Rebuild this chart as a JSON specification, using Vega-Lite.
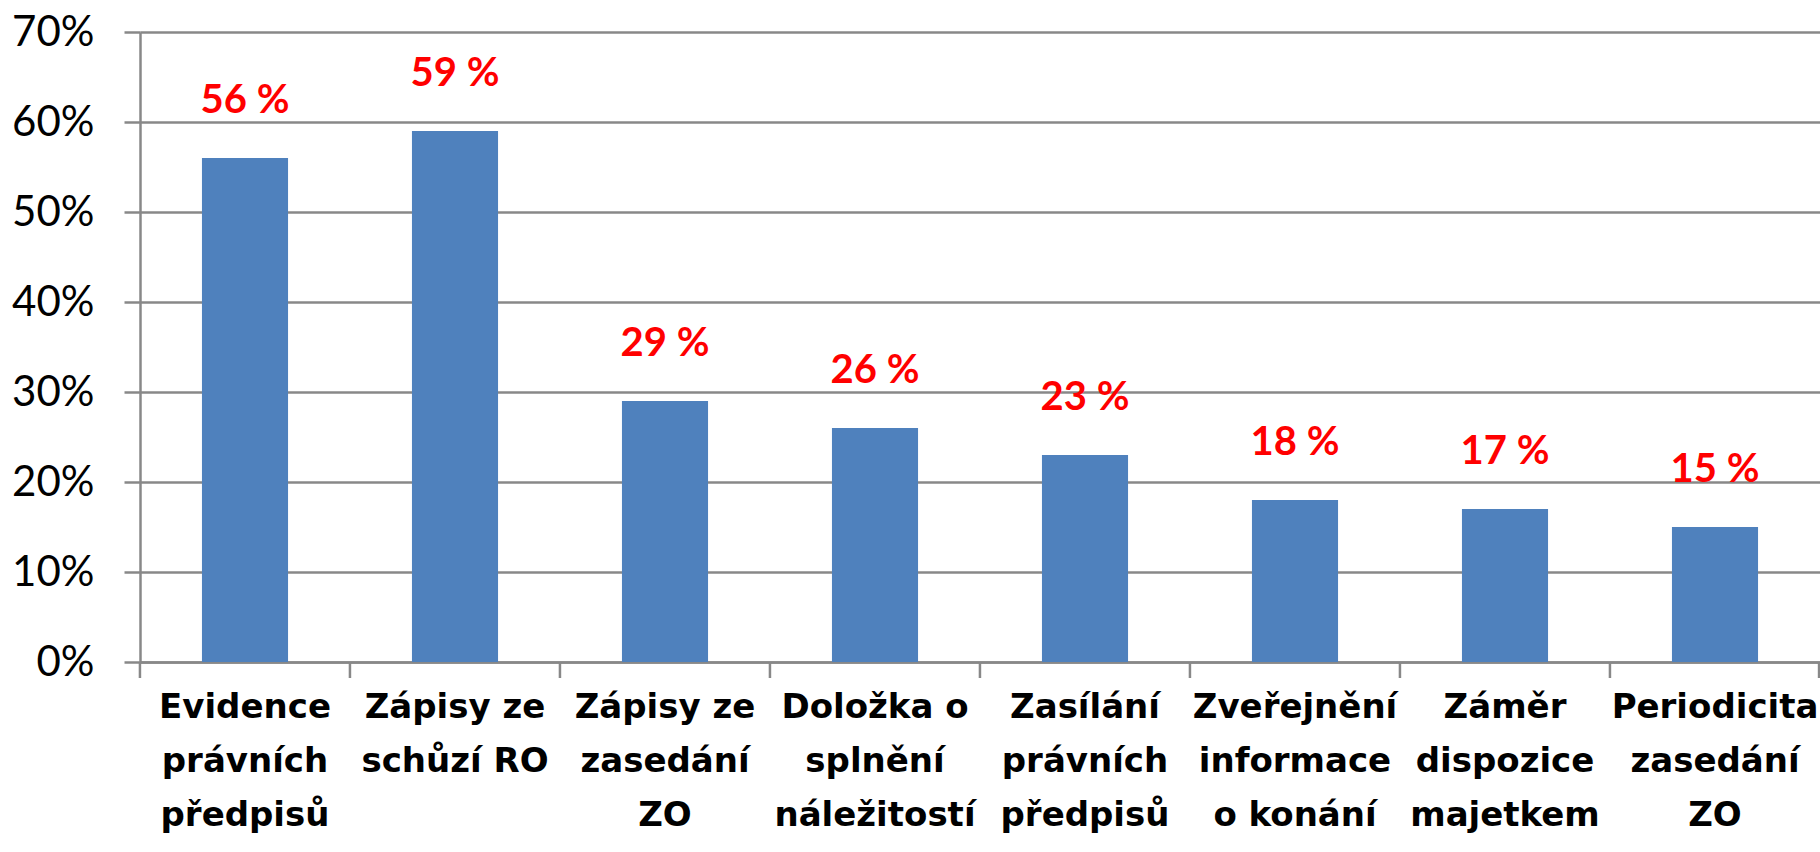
{
  "$schema": "https://vega.github.io/schema/vega-lite/v6.json",
  "autosize": "none",
  "width": 1680,
  "height": 630,
  "padding": {"left": 140, "top": 32, "right": 0, "bottom": 190},
  "background": "white",
  "config": {"view": {"stroke": null}, "font": "Lato"},
  "data": {
    "values": [
      {"cat": "Evidence\nprávních\npředpisů", "v": 56},
      {"cat": "Zápisy ze\nschůzí RO", "v": 59},
      {"cat": "Zápisy ze\nzasedání\nZO", "v": 29},
      {"cat": "Doložka o\nsplnění\nnáležitostí", "v": 26},
      {"cat": "Zasílání\nprávních\npředpisů", "v": 23},
      {"cat": "Zveřejnění\ninformace\no konání", "v": 18},
      {"cat": "Záměr\ndispozice\nmajetkem", "v": 17},
      {"cat": "Periodicita\nzasedání\nZO", "v": 15}
    ]
  },
  "transform": [{"calculate": "datum.v + ' %'", "as": "lbl"}],
  "encoding": {
    "x": {
      "field": "cat",
      "type": "nominal",
      "sort": null,
      "scale": {"paddingInner": 0.59, "paddingOuter": 0.295},
      "axis": {
        "title": null,
        "labelAngle": 0,
        "labelExpr": "split(datum.label, '\\n')",
        "labelFont": "DejaVu Sans",
        "labelFontSize": 34,
        "labelFontWeight": "bold",
        "labelColor": "black",
        "labelLineHeight": 54,
        "labelPadding": 28,
        "labelBaseline": "top",
        "labelLimit": 400,
        "ticks": false,
        "domainColor": "#888888",
        "domainWidth": 2.5,
        "grid": false
      }
    }
  },
  "layer": [
    {
      "mark": {"type": "bar", "color": "#4F81BD"},
      "encoding": {
        "y": {
          "field": "v",
          "type": "quantitative",
          "scale": {"domain": [0, 70]},
          "axis": {
            "title": null,
            "values": [0, 10, 20, 30, 40, 50, 60, 70],
            "labelExpr": "datum.value + '%'",
            "labelFont": "Lato",
            "labelFontSize": 42,
            "labelColor": "black",
            "labelPadding": 30,
            "tickSize": 16,
            "tickColor": "#888888",
            "tickWidth": 2.5,
            "domainColor": "#888888",
            "domainWidth": 2.5,
            "grid": true,
            "gridColor": "#888888",
            "gridWidth": 2.5,
            "gridOpacity": 1
          }
        }
      }
    },
    {
      "mark": {"type": "rule", "color": "#888888", "strokeWidth": 2.5, "y2Offset": 16, "xOffset": -62},
      "encoding": {
        "x": {"field": "cat", "type": "nominal", "sort": null, "bandPosition": 0},
        "y": {"datum": 0, "type": "quantitative"},
        "y2": {"datum": 0}
      }
    },
    {
      "transform": [{"filter": "datum.cat === 'Periodicita\\nzasedání\\nZO'"}],
      "mark": {"type": "rule", "color": "#888888", "strokeWidth": 2.5, "y2Offset": 16, "xOffset": 61},
      "encoding": {
        "x": {"field": "cat", "type": "nominal", "sort": null, "bandPosition": 1},
        "y": {"datum": 0, "type": "quantitative"},
        "y2": {"datum": 0}
      }
    },
    {
      "mark": {"type": "text", "color": "#FF0000", "font": "Lato", "fontSize": 40, "fontWeight": "bold", "baseline": "middle", "dy": -57},
      "encoding": {
        "y": {"field": "v", "type": "quantitative"},
        "text": {"field": "lbl"}
      }
    }
  ]
}
